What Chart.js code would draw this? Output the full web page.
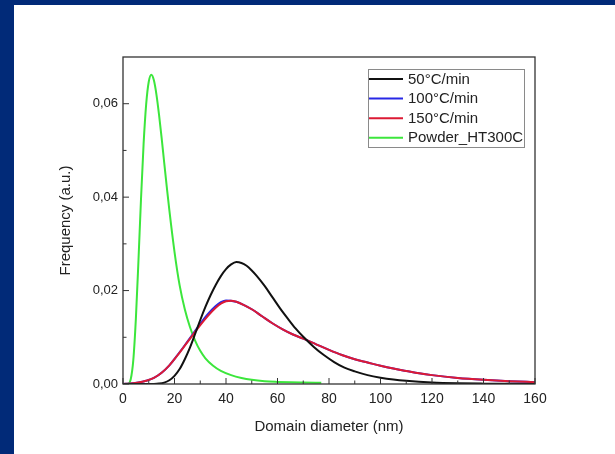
<!DOCTYPE html>
<html>
<head>
<meta charset="utf-8">
<title>Domain diameter distribution</title>
<script src="https://cdn.jsdelivr.net/npm/chart.js@4/dist/chart.umd.min.js"></script>
<style>
  html, body { margin: 0; padding: 0; background: #fff; }
  #wrap { width: 615px; height: 454px; position: relative; }
</style>
</head>
<body>
<div id="wrap"><canvas id="myChart" width="615" height="454"></canvas></div>
<script>
'use strict';

// series labels, in legend order
var seriesNames = ['50°C/min', '100°C/min', '150°C/min', 'Powder_HT300C'];

// 50°C/min
var x50 = [0, 8, 10, 12, 14, 16, 18, 20, 22, 24, 26, 28, 30, 32, 34, 36, 38, 40, 42, 44, 46, 48, 50, 52, 55, 58, 61, 64, 67, 70, 74, 78, 82, 86, 90, 95, 100, 105, 110, 120, 130, 140, 150, 160];
var y50 = [0, 0, 0.00001, 0.00002, 0.00009, 0.0003, 0.0008, 0.00175, 0.0032, 0.0053, 0.0078, 0.0107, 0.0137, 0.0165, 0.0190, 0.0212, 0.0231, 0.0246, 0.0256, 0.0261, 0.0259, 0.0253, 0.0243, 0.0231, 0.0210, 0.0186, 0.0162, 0.0140, 0.0119, 0.0101, 0.0080, 0.0062, 0.0047, 0.0035, 0.0027, 0.0019, 0.00135, 0.00095, 0.00068, 0.00033, 0.00016, 0.00008, 0.00004, 0.00002];

// 100°C/min
var x100 = [0, 3, 6, 9, 12, 15, 18, 21, 24, 27, 30, 33, 36, 38, 40, 42, 44, 47, 50, 54, 58, 62, 66, 70, 75, 80, 85, 90, 95, 100, 105, 110, 115, 120, 130, 140, 150, 160];
var y100 = [0, 0.0001, 0.0003, 0.0007, 0.0013, 0.0024, 0.0040, 0.0061, 0.0083, 0.0106, 0.0129, 0.0150, 0.0167, 0.0175, 0.0179, 0.0178, 0.0176, 0.0169, 0.0160, 0.0145, 0.0130, 0.0117, 0.0106, 0.0097, 0.0085, 0.0073, 0.0062, 0.0053, 0.0046, 0.0039, 0.0033, 0.0028, 0.0023, 0.0019, 0.0013, 0.0009, 0.0006, 0.0004];

// 150°C/min
var x150 = [0, 3, 6, 9, 12, 15, 18, 21, 24, 27, 30, 33, 36, 38, 40, 42, 44, 47, 50, 54, 58, 62, 66, 70, 75, 80, 85, 90, 95, 100, 105, 110, 115, 120, 130, 140, 150, 160];
var y150 = [0, 0.0001, 0.0003, 0.0007, 0.0013, 0.0024, 0.0040, 0.0060, 0.0082, 0.0104, 0.0126, 0.0146, 0.0163, 0.0172, 0.0177, 0.0178, 0.0176, 0.0169, 0.0160, 0.0145, 0.0130, 0.0117, 0.0106, 0.0097, 0.0085, 0.0073, 0.0062, 0.0053, 0.0046, 0.0039, 0.0033, 0.0028, 0.0023, 0.0019, 0.0013, 0.0009, 0.0006, 0.0004];

// Powder_HT300C
var xPowder = [0, 2, 3, 4, 5, 6, 7, 8, 9, 10, 11, 12, 13, 14, 15, 16, 17, 18, 20, 22, 24, 26, 28, 30, 32, 35, 38, 42, 46, 50, 55, 60, 65, 70, 77];
var yPowder = [0, 0.00005, 0.001, 0.0051, 0.0140, 0.0264, 0.0397, 0.0514, 0.0599, 0.0647, 0.0662, 0.0650, 0.0619, 0.0576, 0.0527, 0.0474, 0.0422, 0.0372, 0.0283, 0.0211, 0.0160, 0.0122, 0.0093, 0.0071, 0.0055, 0.0039, 0.0028, 0.0019, 0.0013, 0.0009, 0.0006, 0.00045, 0.00035, 0.0003, 0.00025];

// axis ticks
var xTicks = [0, 20, 40, 60, 80, 100, 120, 140, 160];
var yTicks = [0, 0.02, 0.04, 0.06];

var colors = ['#111111', '#2828e6', '#dc1a34', '#3ce63c'];
var navy = '#012a78';
var frameColor = '#333333';
var textColor = '#222';
var fontFamily = '"Liberation Sans", Arial, sans-serif';

function points(xs, ys) {
   return xs.map(function (x, i) { return { x: x, y: ys[i] }; });
}

function makeSet(i, xs, ys, order) {
   return {
      label: seriesNames[i],
      data: points(xs, ys),
      borderColor: colors[i],
      backgroundColor: colors[i],
      borderWidth: 2,
      pointRadius: 0,
      fill: false,
      cubicInterpolationMode: 'monotone',
      order: order
   };
}

//page background with the navy edges
var backdrop = {
   id: 'backdrop',
   beforeDraw: function (chart) {
      var ctx = chart.ctx;
      ctx.save();
      ctx.fillStyle = '#fff';
      ctx.fillRect(0, 0, chart.width, chart.height);
      ctx.fillStyle = navy;
      ctx.fillRect(0, 0, chart.width, 5);
      ctx.fillRect(0, 0, 14, chart.height);
      ctx.restore();
   }
};

//frame round the plot and inward tick marks
var frame = {
   id: 'frame',
   afterDraw: function (chart) {
      var ctx = chart.ctx, a = chart.chartArea;
      var xs = chart.scales.x, ys = chart.scales.y;
      ctx.save();
      ctx.strokeStyle = frameColor;
      ctx.lineWidth = 1.3;
      ctx.strokeRect(a.left, a.top, a.right - a.left, a.bottom - a.top);

      ctx.lineWidth = 1;
      ctx.beginPath();
      xTicks.forEach(function (v, i) {
         var px = xs.getPixelForValue(v);
         ctx.moveTo(px, a.bottom);
         ctx.lineTo(px, a.bottom - 6);
         if (i < xTicks.length - 1) {
            var mx = xs.getPixelForValue((v + xTicks[i + 1]) / 2);
            ctx.moveTo(mx, a.bottom);
            ctx.lineTo(mx, a.bottom - 3.5);
         }
      });
      yTicks.forEach(function (v, i) {
         var py = ys.getPixelForValue(v);
         ctx.moveTo(a.left, py);
         ctx.lineTo(a.left + 6, py);
         var next = i < yTicks.length - 1 ? yTicks[i + 1] : v + 0.02;
         var mv = (v + next) / 2;
         if (mv < ys.max) {
            var my = ys.getPixelForValue(mv);
            ctx.moveTo(a.left, my);
            ctx.lineTo(a.left + 3.5, my);
         }
      });
      ctx.stroke();
      ctx.restore();
   }
};

//legend box inside the plot, top right
var boxLegend = {
   id: 'boxLegend',
   afterDraw: function (chart) {
      var ctx = chart.ctx;
      var left = 368, top = 69, w = 156, h = 78;
      ctx.save();
      ctx.strokeStyle = '#8a8a8a';
      ctx.lineWidth = 1;
      ctx.strokeRect(left + 0.5, top + 0.5, w, h);
      ctx.font = '15px ' + fontFamily;
      ctx.textBaseline = 'middle';
      chart.data.datasets.forEach(function (ds, i) {
         var y = top + 10 + i * 19.6;
         ctx.strokeStyle = ds.borderColor;
         ctx.lineWidth = 2;
         ctx.beginPath();
         ctx.moveTo(left + 1, y);
         ctx.lineTo(left + 35, y);
         ctx.stroke();
         ctx.fillStyle = textColor;
         ctx.fillText(ds.label, left + 40, y + 0.5);
      });
      ctx.restore();
   }
};

var ctx = document.getElementById('myChart').getContext('2d');
var myChart = new Chart(ctx, {
   type: 'line',
   data: {
      datasets: [
         makeSet(0, x50, y50, 0),
         makeSet(1, x100, y100, 2),
         makeSet(2, x150, y150, 1),
         makeSet(3, xPowder, yPowder, 3)
      ]
   },
   options: {
      responsive: false,
      animation: false,
      layout: { padding: { top: 57, right: 80, left: 0, bottom: 0 } },
      plugins: {
         legend: { display: false },
         tooltip: { enabled: false }
      },
      scales: {
         x: {
            type: 'linear',
            min: 0,
            max: 160,
            grid: { display: false, drawTicks: false },
            border: { display: false },
            afterBuildTicks: function (scale) {
               scale.ticks = xTicks.map(function (v) { return { value: v }; });
            },
            afterFit: function (scale) { scale.height = 70; },
            ticks: {
               padding: 7,
               maxRotation: 0,
               color: textColor,
               font: { family: fontFamily, size: 14 }
            },
            title: {
               display: true,
               text: 'Domain diameter (nm)',
               color: textColor,
               font: { family: fontFamily, size: 15 },
               padding: { top: 0, bottom: 18 }
            }
         },
         y: {
            min: 0,
            max: 0.07,
            grid: { display: false, drawTicks: false },
            border: { display: false },
            afterBuildTicks: function (scale) {
               scale.ticks = yTicks.map(function (v) { return { value: v }; });
            },
            afterFit: function (scale) { scale.width = 123; },
            ticks: {
               padding: 5,
               color: textColor,
               font: { family: fontFamily, size: 13 },
               callback: function (v) { return v.toFixed(2).replace('.', ','); }
            },
            title: {
               display: true,
               text: 'Frequency (a.u.)',
               color: textColor,
               font: { family: fontFamily, size: 15 },
               padding: { top: 57, bottom: 0 }
            }
         }
      }
   },
   plugins: [backdrop, frame, boxLegend]
});
</script>
</body>
</html>
